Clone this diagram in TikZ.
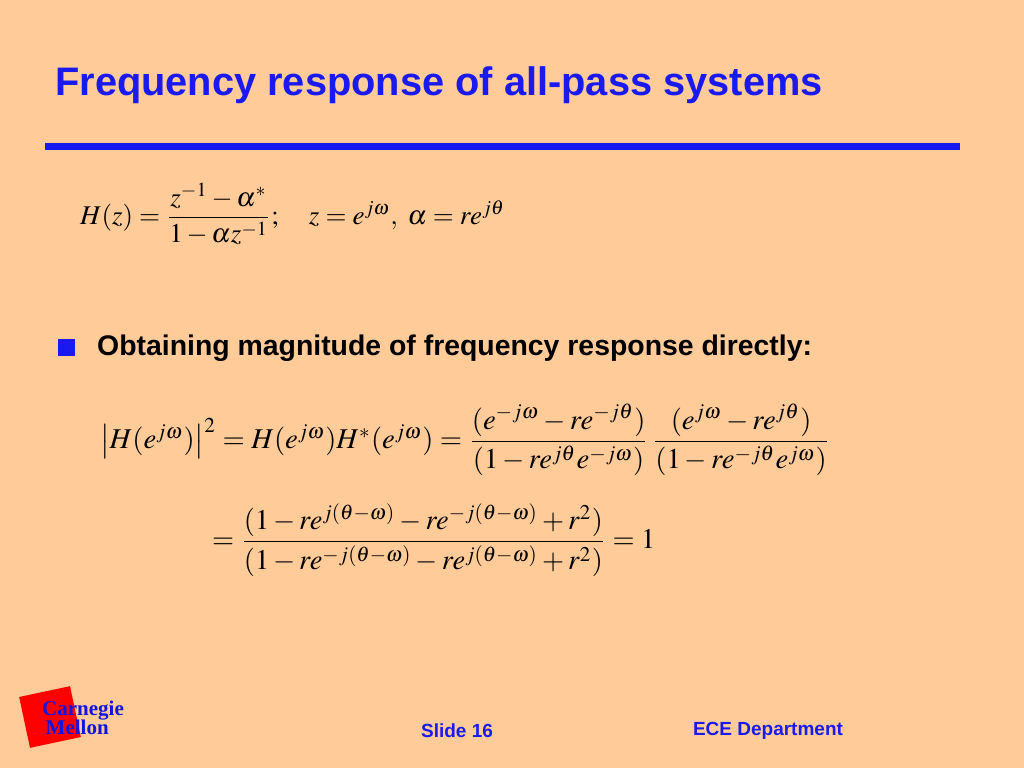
\documentclass[tikz,border=0pt]{standalone}
\usepackage{amsmath}
\usepackage{mathptmx}
\usepackage{graphicx}
\usepackage{fontspec}
\setmainfont{Liberation Serif}
\newfontfamily\arialfont{Liberation Sans}
\definecolor{slide_bg}{RGB}{255, 204, 153}
\definecolor{slide_blue}{RGB}{26, 26, 240}
\definecolor{cmu_red}{RGB}{255, 0, 0}
\definecolor{cmu_text}{RGB}{20, 20, 220}
\usetikzlibrary{positioning}

\begin{document}
\begin{tikzpicture}[x=1pt, y=-1pt,
    headline/.style={font=\arialfont\bfseries\fontsize{39.8}{44}\selectfont,
                     text=slide_blue, anchor=west, inner sep=0pt},
    bullettext/.style={font=\arialfont\bfseries\fontsize{28.4}{32}\selectfont,
                       anchor=west, inner sep=0pt},
    footer/.style={font=\arialfont\bfseries\fontsize{19}{22}\selectfont,
                   text=slide_blue, inner sep=0pt},
    formula/.style={anchor=west, inner sep=0pt}]
  \fill[slide_bg] (0,0) rectangle (1024,768);
  % title and rule
  \node[headline] (title) at (55,85) {Frequency response of all-pass systems};
  \fill[slide_blue] (45,143) rectangle (960,150);
  % definition
  \node[formula] (def) at (80,214)
    {\resizebox{425pt}{!}{$H(z)=\dfrac{z^{-1}-\alpha^{*}}{1-\alpha z^{-1}};\quad z=e^{j\omega},\ \alpha=re^{j\theta}$}};
  % bullet
  \fill[slide_blue] (58,339) rectangle (75,356);
  \node[bullettext] (bullet) at (97,348) {Obtaining magnitude of frequency response directly:};
  % magnitude
  \node[formula] (mag) at (100,440)
    {\resizebox{730pt}{!}{$\left|H(e^{j\omega})\right|^{2}=H(e^{j\omega})H^{*}(e^{j\omega})=\dfrac{(e^{-j\omega}-re^{-j\theta})}{(1-re^{j\theta}e^{-j\omega})}\,\dfrac{(e^{j\omega}-re^{j\theta})}{(1-re^{-j\theta}e^{j\omega})}$}};
  \node[formula] (result) at (212,540)
    {\resizebox{443pt}{!}{$=\dfrac{(1-re^{j(\theta-\omega)}-re^{-j(\theta-\omega)}+r^{2})}{(1-re^{-j(\theta-\omega)}-re^{j(\theta-\omega)}+r^{2})}=1$}};
  % logo
  \fill[cmu_red, rotate around={12:(50,717)}] (24,691) rectangle (76,743);
  \node[font=\bfseries\fontsize{21}{14}\selectfont, text=cmu_text, align=left,
        anchor=north west, inner sep=0pt] (logo) at (42,701) {Carnegie\\[-1pt]\,Mellon};
  % footer
  \node[footer] (slide) at (457,731) {Slide 16};
  \node[footer] (dept) at (768,731) {ECE Department};
\end{tikzpicture}
\end{document}
